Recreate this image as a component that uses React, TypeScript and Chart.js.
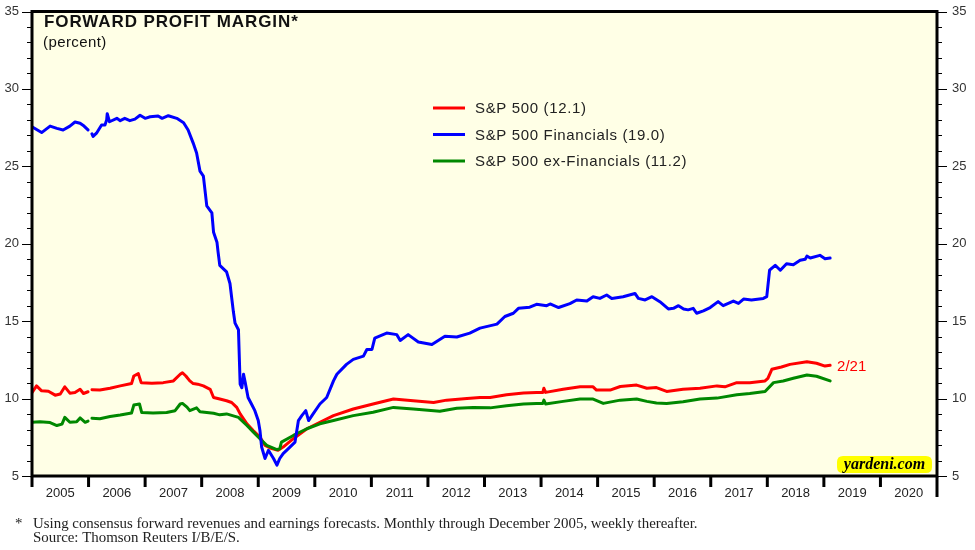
import React, { useEffect, useRef } from 'react';
import { Chart, registerables } from 'chart.js';

Chart.register(...registerables);

// ---------- data ----------
const yearLabels = ['2005', '2006', '2007', '2008', '2009', '2010', '2011', '2012', '2013', '2014', '2015', '2016', '2017', '2018', '2019', '2020'];
const yTickValues = [5, 10, 15, 20, 25, 30, 35];

const sp500Dates = [
  2005.00, 2005.08, 2005.17, 2005.29, 2005.41, 2005.50, 2005.58, 2005.67, 2005.76, 2005.85, 2005.91, 2005.99,
  2006.02,
  2006.06, 2006.20, 2006.38, 2006.56, 2006.76, 2006.80, 2006.88, 2006.93, 2007.12, 2007.32, 2007.50, 2007.62,
  2007.66, 2007.72, 2007.79, 2007.85, 2007.93, 2008.03, 2008.15, 2008.21, 2008.32, 2008.44, 2008.53, 2008.62,
  2008.68, 2008.80, 2008.91, 2009.03, 2009.12, 2009.24, 2009.35, 2009.44, 2009.62, 2009.86, 2010.09, 2010.33,
  2010.68, 2011.03, 2011.39, 2011.74, 2012.10, 2012.33, 2012.69, 2012.92, 2013.10, 2013.39, 2013.69, 2013.92,
  2014.03, 2014.05, 2014.08, 2014.39, 2014.69, 2014.92, 2014.98, 2015.22, 2015.40, 2015.69, 2015.87, 2016.04,
  2016.22, 2016.51, 2016.81, 2017.11, 2017.25, 2017.46, 2017.69, 2017.96, 2018.01, 2018.08, 2018.25, 2018.40,
  2018.70, 2018.87, 2019.02, 2019.11,
];
const sp500Values = [
  10.39, 10.82, 10.50, 10.47, 10.22, 10.30, 10.76, 10.35, 10.39, 10.60, 10.33, 10.44,
  null,
  10.57, 10.55, 10.67, 10.82, 10.97, 11.46, 11.61, 11.03, 10.99, 11.03, 11.14, 11.57,
  11.67, 11.46, 11.14, 10.97, 10.93, 10.82, 10.60, 10.07, 9.97, 9.86, 9.75, 9.43,
  9.01, 8.37, 7.94, 7.51, 6.98, 6.77, 6.66, 6.87, 7.41, 8.05, 8.47, 8.90,
  9.33, 9.65, 9.97, 9.86, 9.75, 9.90, 10.00, 10.07, 10.07, 10.25, 10.36, 10.39,
  10.39, 10.67, 10.40, 10.60, 10.76, 10.76, 10.55, 10.55, 10.78, 10.87, 10.67, 10.71,
  10.46, 10.60, 10.67, 10.82, 10.76, 11.03, 11.03, 11.14, 11.30, 11.89, 12.04, 12.21,
  12.38, 12.28, 12.10, 12.15,
];

const financialsDates = [
  2005.00, 2005.17, 2005.32, 2005.44, 2005.55, 2005.67, 2005.76, 2005.85, 2005.92, 2005.99,
  2006.02,
  2006.06, 2006.08, 2006.14, 2006.23, 2006.29, 2006.32, 2006.33, 2006.37, 2006.50, 2006.56, 2006.64, 2006.73,
  2006.82, 2006.91, 2007.00, 2007.09, 2007.23, 2007.30, 2007.41, 2007.56, 2007.68, 2007.76, 2007.85, 2007.91,
  2007.97, 2008.03, 2008.09, 2008.18, 2008.21, 2008.27, 2008.29, 2008.32, 2008.44, 2008.50, 2008.56, 2008.59,
  2008.65, 2008.68, 2008.71, 2008.74, 2008.77, 2008.82, 2008.88, 2008.94, 2009.00, 2009.03, 2009.06, 2009.12,
  2009.18, 2009.27, 2009.33, 2009.38, 2009.44, 2009.56, 2009.65, 2009.71, 2009.77, 2009.84, 2009.89, 2009.97,
  2010.09, 2010.21, 2010.33, 2010.39, 2010.56, 2010.68, 2010.86, 2010.92, 2011.01, 2011.06, 2011.27, 2011.45,
  2011.51, 2011.65, 2011.83, 2012.07, 2012.30, 2012.51, 2012.74, 2012.92, 2013.22, 2013.36, 2013.51, 2013.60,
  2013.80, 2013.92, 2014.10, 2014.16, 2014.31, 2014.51, 2014.63, 2014.81, 2014.92, 2015.04, 2015.16, 2015.25,
  2015.45, 2015.66, 2015.72, 2015.84, 2015.96, 2016.10, 2016.25, 2016.34, 2016.43, 2016.52, 2016.60, 2016.69,
  2016.75, 2016.87, 2016.99, 2017.13, 2017.22, 2017.40, 2017.49, 2017.58, 2017.72, 2017.93, 2017.99, 2018.04,
  2018.14, 2018.23, 2018.34, 2018.46, 2018.58, 2018.67, 2018.70, 2018.76, 2018.93, 2019.02, 2019.11,
];
const financialsValues = [
  27.55, 27.18, 27.60, 27.45, 27.35, 27.60, 27.86, 27.78, 27.60, 27.35,
  null,
  27.10, 26.93, 27.14, 27.67, 27.67, 28.00, 28.40, 27.88, 28.10, 27.95, 28.10, 27.95,
  28.05, 28.30, 28.10, 28.20, 28.25, 28.10, 28.27, 28.10, 27.82, 27.35, 26.50, 25.86,
  24.69, 24.37, 22.45, 22.00, 20.74, 20.10, 19.46, 18.60, 18.18, 17.43, 15.62, 14.87,
  14.45, 10.93, 10.70, 11.57, 11.03, 10.07, 9.65, 9.22, 8.58, 7.94, 6.87, 6.13,
  6.66, 6.13, 5.70, 6.13, 6.45, 6.87, 7.19, 8.58, 8.90, 9.22, 8.58, 9.01,
  9.65, 10.07, 11.14, 11.57, 12.21, 12.53, 12.74, 13.17, 13.17, 13.91, 14.23, 14.13,
  13.75, 14.13, 13.66, 13.49, 14.02, 13.98, 14.23, 14.55, 14.81, 15.30, 15.51, 15.83,
  15.90, 16.09, 16.00, 16.11, 15.88, 16.13, 16.37, 16.30, 16.58, 16.47, 16.69, 16.47,
  16.58, 16.79, 16.47, 16.37, 16.58, 16.26, 15.79, 15.83, 16.00, 15.79, 15.73, 15.83,
  15.51, 15.67, 15.88, 16.26, 16.00, 16.30, 16.15, 16.43, 16.37, 16.47, 16.58, 18.29,
  18.61, 18.29, 18.71, 18.65, 18.93, 19.00, 19.20, 19.08, 19.25, 19.03, 19.08,
];

const exFinancialsDates = [
  2005.00, 2005.14, 2005.32, 2005.44, 2005.53, 2005.58, 2005.67, 2005.79, 2005.85, 2005.94, 2005.99,
  2006.02,
  2006.06, 2006.20, 2006.38, 2006.56, 2006.76, 2006.80, 2006.90, 2006.94, 2007.14, 2007.38, 2007.53, 2007.62,
  2007.66, 2007.74, 2007.79, 2007.91, 2007.97, 2008.21, 2008.32, 2008.44, 2008.65, 2008.80, 2008.91, 2009.03,
  2009.15, 2009.33, 2009.38, 2009.41, 2009.62, 2009.86, 2010.09, 2010.33, 2010.68, 2011.03, 2011.39, 2011.74,
  2012.21, 2012.51, 2012.80, 2013.10, 2013.39, 2013.69, 2013.92, 2014.03, 2014.05, 2014.08, 2014.39, 2014.69,
  2014.92, 2015.10, 2015.40, 2015.69, 2015.87, 2016.04, 2016.22, 2016.51, 2016.81, 2017.11, 2017.46, 2017.69,
  2017.96, 2018.11, 2018.28, 2018.46, 2018.70, 2018.87, 2019.11,
];
const exFinancialsValues = [
  8.47, 8.50, 8.45, 8.26, 8.35, 8.79, 8.47, 8.50, 8.75, 8.47, 8.55,
  null,
  8.73, 8.70, 8.84, 8.94, 9.07, 9.58, 9.65, 9.10, 9.07, 9.10, 9.22, 9.65,
  9.69, 9.45, 9.22, 9.40, 9.15, 9.05, 8.95, 9.01, 8.79, 8.26, 7.85, 7.41,
  6.98, 6.71, 6.75, 7.19, 7.62, 8.05, 8.37, 8.58, 8.90, 9.12, 9.43, 9.33,
  9.18, 9.37, 9.43, 9.40, 9.54, 9.65, 9.69, 9.69, 9.90, 9.65, 9.82, 9.97,
  9.97, 9.69, 9.90, 9.97, 9.82, 9.71, 9.69, 9.80, 9.97, 10.03, 10.25, 10.33,
  10.46, 11.03, 11.14, 11.31, 11.52, 11.44, 11.14,
];

const seriesLabels = ['S&P 500 (12.1)', 'S&P 500 Financials (19.0)', 'S&P 500 ex-Financials (11.2)'];
const lastDateLabel = '2/21';

// ---------- helpers ----------
const toPoints = (dates: number[], values: (number | null)[]) =>
  dates.map((d, i) => ({ x: d, y: values[i] }));

const SANS = '"Liberation Sans", Arial, sans-serif';
const SERIF = '"Liberation Serif", "Times New Roman", serif';

const setSpacing = (ctx: any, px: number) => {
  if ('letterSpacing' in ctx) ctx.letterSpacing = `${px}px`;
};

const decorPlugin = {
  id: 'decor',
  beforeDraw(chart: any) {
    const { ctx, chartArea: a } = chart;
    ctx.save();
    ctx.fillStyle = '#ffffff';
    ctx.fillRect(0, 0, chart.width, chart.height);
    ctx.fillStyle = '#FFFFE6';
    ctx.fillRect(a.left, a.top, a.right - a.left, a.bottom - a.top);
    ctx.restore();
  },
  afterDatasetsDraw(chart: any) {
    const { ctx, chartArea: a, scales } = chart;
    const yS = scales.y;
    const xS = scales.x;
    ctx.save();

    // frame
    ctx.strokeStyle = '#000';
    ctx.lineWidth = 3;
    ctx.strokeRect(a.left, a.top, a.right - a.left, a.bottom - a.top);

    // y ticks (both sides)
    ctx.lineWidth = 1;
    for (let v = yS.min; v <= yS.max; v++) {
      const py = Math.round(yS.getPixelForValue(v)) + 0.5;
      const len = v % 5 === 0 ? 10 : 5;
      ctx.beginPath();
      ctx.moveTo(a.left - len, py);
      ctx.lineTo(a.left, py);
      ctx.moveTo(a.right, py);
      ctx.lineTo(a.right + len, py);
      ctx.stroke();
    }

    // x year boundary ticks
    ctx.lineWidth = 3;
    for (let yr = xS.min; yr <= xS.max; yr++) {
      const px = xS.getPixelForValue(yr);
      ctx.beginPath();
      ctx.moveTo(px, a.bottom);
      ctx.lineTo(px, a.bottom + (yr === xS.max ? 21 : 11));
      ctx.stroke();
    }

    // title
    ctx.fillStyle = '#111';
    ctx.textAlign = 'left';
    ctx.textBaseline = 'alphabetic';
    ctx.font = `bold 17px ${SANS}`;
    setSpacing(ctx, 0.9);
    ctx.fillText('FORWARD PROFIT MARGIN*', a.left + 12, 27);
    ctx.font = `15px ${SANS}`;
    setSpacing(ctx, 0.4);
    ctx.fillText('(percent)', a.left + 11, 47);

    // legend
    ctx.textBaseline = 'middle';
    ctx.font = `15px ${SANS}`;
    setSpacing(ctx, 0.65);
    chart.data.datasets.forEach((ds: any, i: number) => {
      const ly = 108 + i * 26.5;
      ctx.strokeStyle = ds.borderColor;
      ctx.lineWidth = 3;
      ctx.beginPath();
      ctx.moveTo(a.left + 401, ly);
      ctx.lineTo(a.left + 433, ly);
      ctx.stroke();
      ctx.fillStyle = '#222';
      ctx.fillText(ds.label, a.left + 443, ly + 1);
    });
    setSpacing(ctx, 0);

    // last-date annotation next to S&P 500 line
    const meta = chart.getDatasetMeta(0);
    const last = meta.data[meta.data.length - 1];
    ctx.fillStyle = '#FF0000';
    ctx.font = `15px ${SANS}`;
    ctx.fillText(lastDateLabel, last.x + 7, last.y + 2);

    // yardeni badge
    const bx = a.right - 100, by = a.bottom - 20, bw = 95, bh = 17, r = 6;
    ctx.fillStyle = '#FFFF00';
    ctx.beginPath();
    ctx.moveTo(bx + r, by);
    ctx.lineTo(bx + bw - r, by);
    ctx.quadraticCurveTo(bx + bw, by, bx + bw, by + r);
    ctx.lineTo(bx + bw, by + bh - r);
    ctx.quadraticCurveTo(bx + bw, by + bh, bx + bw - r, by + bh);
    ctx.lineTo(bx + r, by + bh);
    ctx.quadraticCurveTo(bx, by + bh, bx, by + bh - r);
    ctx.lineTo(bx, by + r);
    ctx.quadraticCurveTo(bx, by, bx + r, by);
    ctx.closePath();
    ctx.fill();
    ctx.fillStyle = '#000';
    ctx.font = `bold italic 16px ${SERIF}`;
    ctx.textAlign = 'center';
    ctx.textBaseline = 'alphabetic';
    ctx.fillText('yardeni.com', bx + bw / 2, by + 13);

    // footnote
    ctx.textAlign = 'left';
    ctx.fillStyle = '#222';
    ctx.font = `14.9px ${SERIF}`;
    ctx.fillText('*', 15, 528);
    ctx.fillText('Using consensus forward revenues and earnings forecasts. Monthly through December 2005, weekly thereafter.', 33, 528);
    ctx.fillText('Source: Thomson Reuters I/B/E/S.', 33, 542);

    ctx.restore();
  },
};

export default function App() {
  const ref = useRef<HTMLCanvasElement>(null);

  useEffect(() => {
    document.body.style.margin = '0';
    const canvas = ref.current;
    if (!canvas) return;

    const tickFont = { family: SANS, size: 13, lineHeight: 1 };
    const yAxisCommon = {
      type: 'linear' as const,
      min: 5,
      max: 35,
      afterBuildTicks: (axis: any) => {
        axis.ticks = yTickValues.map((v) => ({ value: v }));
      },
      grid: { display: true, drawOnChartArea: false, drawTicks: true, tickLength: 10, tickColor: 'rgba(0,0,0,0)' },
      border: { display: false },
    };

    const chart = new Chart(canvas, {
      type: 'line',
      data: {
        datasets: [
          {
            label: seriesLabels[0],
            data: toPoints(sp500Dates, sp500Values),
            borderColor: '#FF0000',
            order: 3,
          },
          {
            label: seriesLabels[1],
            data: toPoints(financialsDates, financialsValues),
            borderColor: '#0000FF',
            order: 1,
          },
          {
            label: seriesLabels[2],
            data: toPoints(exFinancialsDates, exFinancialsValues),
            borderColor: '#008800',
            order: 2,
          },
        ],
      },
      options: {
        responsive: false,
        animation: false,
        spanGaps: false,
        layout: { padding: { top: 7, left: 0, right: 0, bottom: 0 } },
        elements: {
          point: { radius: 0 },
          line: { borderWidth: 3, tension: 0, borderJoinStyle: 'round', borderCapStyle: 'round' },
        },
        plugins: {
          legend: { display: false },
          tooltip: { enabled: false },
        },
        scales: {
          x: {
            type: 'linear',
            min: 2005,
            max: 2021,
            position: 'bottom',
            afterBuildTicks: (axis: any) => {
              axis.ticks = yearLabels.map((_, i) => ({ value: 2005.5 + i }));
            },
            afterFit: (axis: any) => {
              axis.height = 74;
            },
            grid: { display: true, drawOnChartArea: false, drawTicks: true, tickLength: 10, tickColor: 'rgba(0,0,0,0)' },
            border: { display: false },
            ticks: {
              autoSkip: false,
              maxRotation: 0,
              padding: 0,
              color: '#222',
              font: { family: SANS, size: 13 },
              callback: (_v: any, i: number) => yearLabels[i],
            },
          },
          y: {
            ...yAxisCommon,
            position: 'left',
            afterFit: (axis: any) => {
              axis.width = 32;
            },
            ticks: { padding: 3, color: '#333', font: tickFont },
          },
          y2: {
            ...yAxisCommon,
            position: 'right',
            afterFit: (axis: any) => {
              axis.width = 38;
            },
            ticks: { padding: 5, color: '#333', font: tickFont },
          },
        },
      },
      plugins: [decorPlugin],
    });

    return () => chart.destroy();
  }, []);

  return <canvas ref={ref} width={975} height={550} style={{ display: 'block', width: 975, height: 550 }} />;
}
